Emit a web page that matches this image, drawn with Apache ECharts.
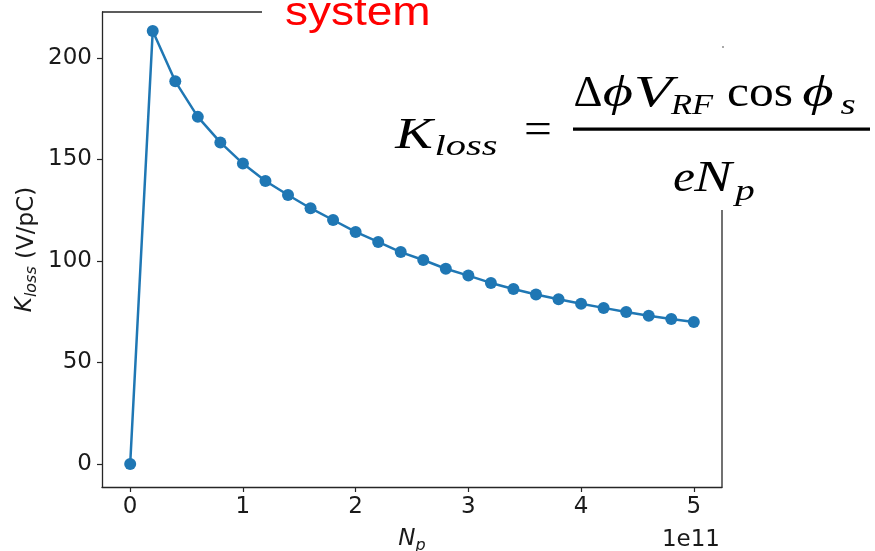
<!DOCTYPE html>
<html>
<head>
<meta charset="utf-8">
<script src="https://cdn.jsdelivr.net/npm/echarts@6/dist/echarts.min.js"></script>
<style>html,body{margin:0;padding:0;background:#fff;}#c{width:875px;height:551px;}</style>
</head>
<body>
<div id="c"></div>
<script>
// Data
const npValues = [0, 2e10, 4e10, 6e10, 8e10, 1e11, 1.2e11, 1.4e11, 1.6e11, 1.8e11, 2e11, 2.2e11, 2.4e11, 2.6e11, 2.8e11, 3e11, 3.2e11, 3.4e11, 3.6e11, 3.8e11, 4e11, 4.2e11, 4.4e11, 4.6e11, 4.8e11, 5e11];
const klossValues = [0, 213.3, 188.5, 171, 158.4, 148, 139.4, 132.5, 126, 120.2, 114.3, 109.4, 104.4, 100.5, 96.2, 92.8, 89.2, 86.2, 83.5, 81.2, 78.9, 76.9, 74.9, 73, 71.4, 70];
const xTickValues = [0, 1e11, 2e11, 3e11, 4e11, 5e11];
const yTickValues = [0, 50, 100, 150, 200];
const xOffsetText = '1e11';
const overlayWord = 'system';

const chart = echarts.init(document.getElementById('c'), null, {renderer: 'canvas'});
const axisColor = '#262626';
const textColor = '#1a1a1a';
const blue = '#1f77b4';
const F = 45, f = 30;
const serif = 'Liberation Serif';
function mtext(str, cx, baseline, size, italic, sx) {
  return {
    type: 'text', x: cx, y: baseline - 0.305 * size, z: 50, scaleX: sx || 1,
    style: {
      text: str, fill: '#000',
      font: (italic ? 'italic ' : '') + size + 'px "' + serif + '"',
      textAlign: 'center', textVerticalAlign: 'middle'
    }
  };
}

const option = {
  animation: false,
  backgroundColor: '#fff',
  grid: {left: 102, top: 12, right: 153, bottom: 64, containLabel: false, outerBoundsMode: 'none'},
  xAxis: {
    type: 'value',
    min: -0.25e11, max: 5.25e11,
    axisLine: {show: true, onZero: false, lineStyle: {color: axisColor, width: 1.3}},
    axisTick: {show: true, length: 5, lineStyle: {color: axisColor, width: 1.2}, customValues: xTickValues},
    axisLabel: {show: true, customValues: xTickValues, margin: 9, color: textColor,
      fontFamily: 'DejaVu Sans', fontSize: 23, formatter: v => String(Math.round(v / 1e11))},
    splitLine: {show: false},
    name: '{i|N}{s|p}',
    nameLocation: 'middle',
    nameGap: 41,
    nameMoveOverlap: false,
    nameTextStyle: {
      rich: {
        i: {fontFamily: 'DejaVu Sans', fontStyle: 'italic', fontSize: 23, color: textColor, lineHeight: 26, verticalAlign: 'top'},
        s: {fontFamily: 'DejaVu Sans', fontStyle: 'italic', fontSize: 16, color: textColor, lineHeight: 16, padding: [10, 0, 0, 0], verticalAlign: 'top'}
      }
    }
  },
  yAxis: {
    type: 'value',
    min: -11.33, max: 222.66,
    axisLine: {show: true, onZero: false, lineStyle: {color: axisColor, width: 1.3}},
    axisTick: {show: true, length: 5, lineStyle: {color: axisColor, width: 1.2}, customValues: yTickValues},
    axisLabel: {show: true, customValues: yTickValues, margin: 10, color: textColor,
      fontFamily: 'DejaVu Sans', fontSize: 23},
    splitLine: {show: false},
    name: '{i|K}{s|loss} (V/pC)',
    nameLocation: 'middle',
    nameRotate: 90,
    nameGap: 62,
    nameMoveOverlap: false,
    nameTextStyle: {
      fontFamily: 'DejaVu Sans', fontSize: 23, color: textColor,
      rich: {
        i: {fontFamily: 'DejaVu Sans', fontStyle: 'italic', fontSize: 23, color: textColor, lineHeight: 26, verticalAlign: 'top'},
        s: {fontFamily: 'DejaVu Sans', fontStyle: 'italic', fontSize: 16, color: textColor, lineHeight: 16, padding: [10, 0, 0, 0], verticalAlign: 'top'}
      }
    }
  },
  series: [{
    type: 'line',
    data: npValues.map((x, i) => [x, klossValues[i]]),
    symbol: 'circle',
    symbolSize: 12,
    lineStyle: {color: blue, width: 2.5},
    itemStyle: {color: blue},
    clip: false,
    z: 3
  }],
  graphic: {
    elements: [
      // remaining visible pieces of the top and right frame lines
      {type: 'line', z: 5, shape: {x1: 102, y1: 12, x2: 262, y2: 12}, style: {stroke: axisColor, lineWidth: 1.3}},
      {type: 'line', z: 5, shape: {x1: 722, y1: 210, x2: 722, y2: 487.5}, style: {stroke: axisColor, lineWidth: 1.3}},
      {type: 'rect', z: 5, shape: {x: 722.5, y: 46, width: 1, height: 2}, style: {fill: '#555'}},
      // red overlay word
      {type: 'text', x: 285, y: 26 - 0.31 * 40, scaleX: 1.15, z: 50,
        style: {text: overlayWord, fill: '#ff0000', font: '40px "Liberation Sans"', textAlign: 'left', textVerticalAlign: 'middle'}},
      // offset text
      {type: 'text', x: 720, y: 547 - 0.297 * 23, z: 50,
        style: {text: xOffsetText, fill: textColor, font: '23px "DejaVu Sans"', textAlign: 'right', textVerticalAlign: 'middle'}},
      // formula
      mtext('K', 414, 150, F, true, 1.25),
      mtext('loss', 466, 156, f, true, 1.35),
      {type: 'text', x: 538, y: 131, z: 50, scaleX: 1.1, style: {text: '=', fill: '#000', font: F + 'px "' + serif + '"', textAlign: 'center', textVerticalAlign: 'middle'}},
      {type: 'rect', z: 50, shape: {x: 573, y: 127.5, width: 297, height: 3.3}, style: {fill: '#000'}},
      mtext('\u0394', 588, 108, F, false, 1),
      mtext('\u03D5', 618, 108, F, true, 1.3),
      mtext('V', 653, 108, F, true, 1.4),
      mtext('RF', 692, 115, f, true, 1.15),
      mtext('cos', 760, 108, F, false, 1.1),
      mtext('\u03D5', 818, 108, F, true, 1.35),
      mtext('s', 848, 115, f, true, 1.3),
      mtext('e', 684, 193, F, true, 1.1),
      mtext('N', 713, 193, F, true, 1.25),
      mtext('p', 745, 201, f, true, 1.3)
    ]
  }
};
chart.setOption(option);
</script>
</body>
</html>
